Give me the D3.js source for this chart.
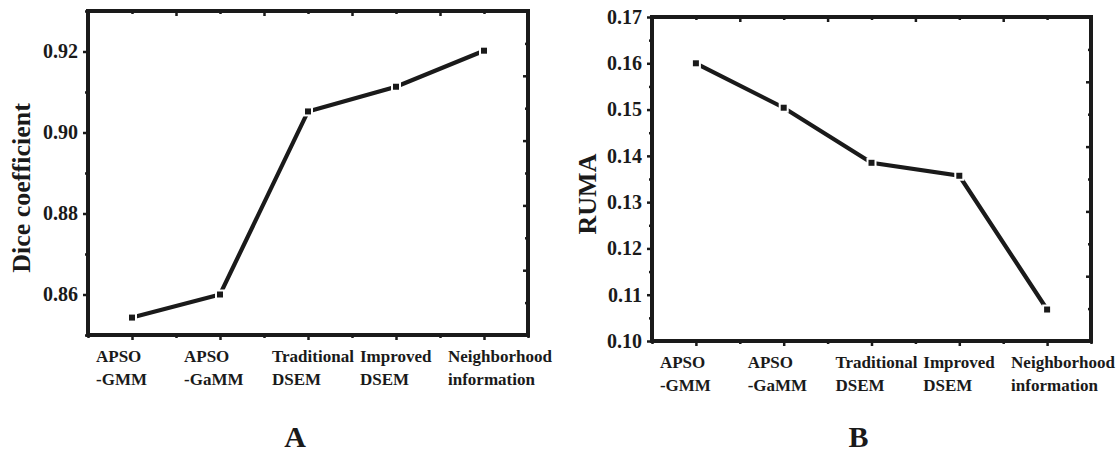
<!DOCTYPE html>
<html>
<head>
<meta charset="utf-8">
<script src="https://cdn.jsdelivr.net/npm/d3@7"></script>
<style>
  body { margin: 0; background: #fff; }
</style>
</head>
<body>
<script>
// data
const categories = [
  ["APSO", "-GMM"],
  ["APSO", "-GaMM"],
  ["Traditional", "DSEM"],
  ["Improved", "DSEM"],
  ["Neighborhood", "information"]
];
const diceValues = [0.8543, 0.8600, 0.9052, 0.9113, 0.9202];
const rumaValues = [0.1600, 0.1504, 0.1385, 0.1357, 0.1068];
const diceTicks = [0.86, 0.88, 0.90, 0.92];
const diceMinor = [0.85, 0.87, 0.89, 0.91, 0.93];
const rumaTicks = [0.10, 0.11, 0.12, 0.13, 0.14, 0.15, 0.16, 0.17];
const rumaMinor = [0.105, 0.115, 0.125, 0.135, 0.145, 0.155, 0.165];

const ink = "#1a1a1a";
const serif = "'Liberation Serif', 'Times New Roman', serif";

const svg = d3.select("body")
  .append("svg")
  .attr("width", 1118)
  .attr("height", 454);

// all texts get the same bold serif look
function styleText(sel, size) {
  sel.style("font-family", serif)
    .style("font-weight", "bold")
    .style("font-size", size + "px")
    .attr("fill", ink);
}

function drawPanel(p) {
  const g = svg.append("g");
  const x = d3.scaleLinear().domain([0.5, categories.length + 0.5]).range([p.left, p.right]);
  const y = d3.scaleLinear().domain(p.domain).range([p.bottom, p.top]);
  // right side ticks in Origin are not tied to the left scale
  const yr = d3.scaleLinear().domain([0, 10]).range([p.bottom, p.top]);
  const idx = d3.range(1, categories.length + 1);
  const half = d3.range(0.5, categories.length + 1, 1);

  // left axis, major + minor, outward
  g.append("g")
    .attr("transform", `translate(${p.left},0)`)
    .call(d3.axisLeft(y).tickValues(p.ticks).tickFormat(d3.format(".2f")).tickSize(5).tickPadding(5))
    .call(a => styleText(a.selectAll("text"), 20));
  g.append("g")
    .attr("transform", `translate(${p.left},0)`)
    .call(d3.axisLeft(y).tickValues(p.minor).tickFormat("").tickSize(3));

  // bottom axis, major on categories, minor between
  g.append("g")
    .attr("transform", `translate(0,${p.bottom})`)
    .call(d3.axisBottom(x).tickValues(idx).tickFormat("").tickSize(5));
  g.append("g")
    .attr("transform", `translate(0,${p.bottom})`)
    .call(d3.axisBottom(x).tickValues(half).tickFormat("").tickSize(3));

  // top axis, inward
  g.append("g")
    .attr("transform", `translate(0,${p.top})`)
    .call(d3.axisTop(x).tickValues(half.slice(1, -1)).tickFormat("").tickSize(-5));
  g.append("g")
    .attr("transform", `translate(0,${p.top})`)
    .call(d3.axisTop(x).tickValues(idx).tickFormat("").tickSize(-3));

  // right axis, inward
  g.append("g")
    .attr("transform", `translate(${p.right},0)`)
    .call(d3.axisRight(yr).tickValues([2, 4, 6, 8]).tickFormat("").tickSize(-5));
  g.append("g")
    .attr("transform", `translate(${p.right},0)`)
    .call(d3.axisRight(yr).tickValues([1, 3, 5, 7, 9]).tickFormat("").tickSize(-3));

  g.selectAll(".domain").remove();
  g.selectAll(".tick line").attr("stroke", ink).attr("stroke-width", 2.5);

  // frame
  g.append("rect")
    .attr("x", p.left).attr("y", p.top)
    .attr("width", p.right - p.left).attr("height", p.bottom - p.top)
    .attr("fill", "none").attr("stroke", ink).attr("stroke-width", 4);

  // line + square markers
  const line = d3.line().x((d, i) => x(i + 1)).y(d => y(d));
  g.append("path")
    .datum(p.values)
    .attr("d", line)
    .attr("fill", "none").attr("stroke", ink).attr("stroke-width", 4.2);
  g.selectAll(".pt")
    .data(p.values)
    .join("rect")
    .attr("class", "pt")
    .attr("x", (d, i) => x(i + 1) - 4)
    .attr("y", d => y(d) - 4)
    .attr("width", 8).attr("height", 8)
    .attr("fill", ink).attr("stroke", "#fff").attr("stroke-width", 2);

  // category labels, two lines, left aligned
  const lab = g.selectAll(".cat")
    .data(categories)
    .join("text")
    .attr("class", "cat")
    .attr("x", (d, i) => x(i + 1) - 36)
    .attr("y", p.bottom + 27)
    .call(styleText, 17);
  lab.selectAll("tspan")
    .data(d => d)
    .join("tspan")
    .attr("x", function() { return d3.select(this.parentNode).attr("x"); })
    .attr("dy", (d, i) => i === 0 ? 0 : 23)
    .text(d => d);

  // axis title
  g.append("text")
    .attr("transform", `translate(${p.titleX},${(p.top + p.bottom) / 2 + 15}) rotate(-90)`)
    .attr("text-anchor", "middle")
    .call(styleText, 26)
    .text(p.title);

  // panel letter
  g.append("text")
    .attr("x", (p.left + p.right) / 2 - 13)
    .attr("y", 447)
    .attr("text-anchor", "middle")
    .call(styleText, 30)
    .text(p.letter);
}

drawPanel({
  left: 88, right: 528, top: 11, bottom: 335,
  domain: [0.85, 0.93], ticks: diceTicks, minor: diceMinor,
  values: diceValues, title: "Dice coefficient", titleX: 30, letter: "A"
});

drawPanel({
  left: 652, right: 1091, top: 17, bottom: 341,
  domain: [0.10, 0.17], ticks: rumaTicks, minor: rumaMinor,
  values: rumaValues, title: "RUMA", titleX: 596, letter: "B"
});
</script>
</body>
</html>
